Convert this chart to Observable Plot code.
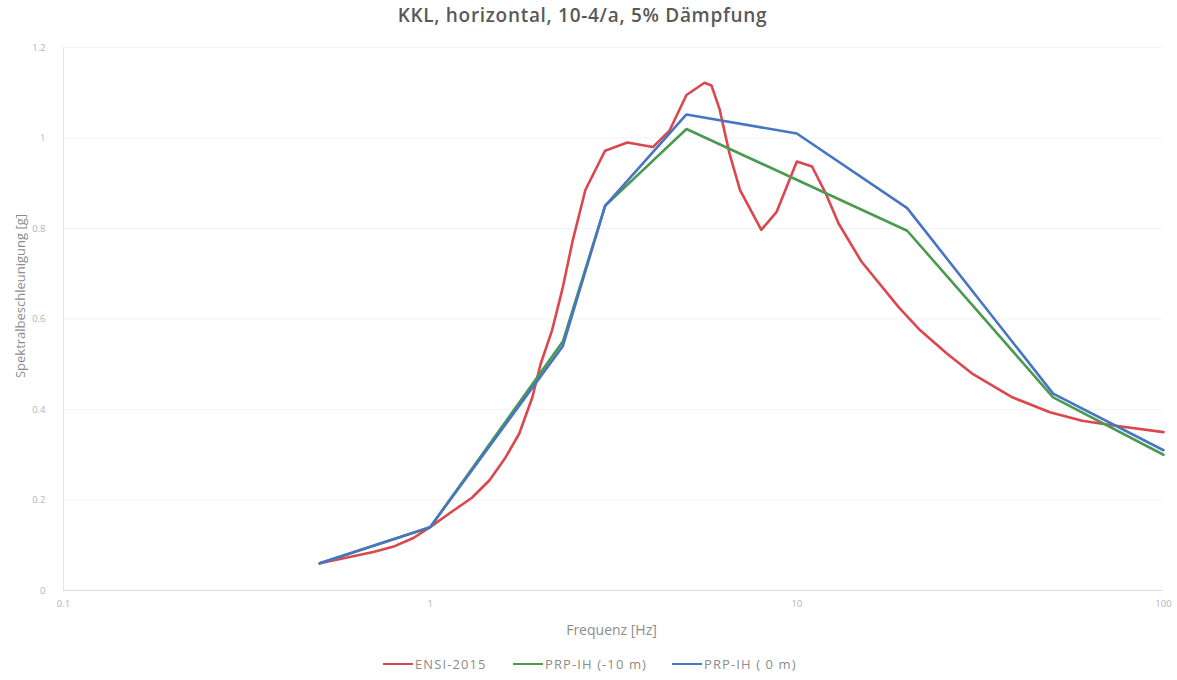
<!DOCTYPE html>
<html>
<head>
<meta charset="utf-8">
<script src="https://cdn.jsdelivr.net/npm/d3@7"></script>
<script src="https://cdn.jsdelivr.net/npm/@observablehq/plot@0.6"></script>
<style>
  html, body { margin: 0; padding: 0; background: #ffffff; }
  #wrap { position: relative; width: 1177px; height: 680px; font-family: "Open Sans", sans-serif; }
  #title { height: 32px; line-height: 30px; text-align: center; font-size: 19px; font-weight: 600; letter-spacing: 0.7px; color: #595959; padding-right: 12px; }
  #legend { position: relative; height: 24px; }
  .item { position: absolute; top: 0; height: 24px; display: flex; align-items: center; font-size: 13px; letter-spacing: 1.1px; color: #8c8c8c; }
  .swatch { width: 30px; height: 2.5px; margin-right: 2px; }
</style>
</head>
<body>
<div id="wrap">
  <div id="title">KKL, horizontal, 10-4/a, 5% Dämpfung</div>
  <div id="chart"></div>
  <div id="legend"></div>
</div>
<script>
// ENSI-2015
const freqEnsi = [0.5, 0.7, 0.8, 0.9, 1, 1.15, 1.3, 1.45, 1.6, 1.75, 1.9, 2.0, 2.15, 2.3, 2.45, 2.65, 3.0, 3.45, 4.05, 4.5, 5.0, 5.6, 5.85, 6.15, 6.55, 7.0, 8.0, 8.8, 10, 11, 12, 13, 15, 19, 21.7, 25.7, 30, 38.7, 49, 60, 74, 100];
const valEnsi  = [0.06, 0.085, 0.098, 0.116, 0.14, 0.175, 0.205, 0.243, 0.292, 0.347, 0.427, 0.50, 0.575, 0.67, 0.775, 0.885, 0.972, 0.99, 0.98, 1.017, 1.095, 1.122, 1.116, 1.065, 0.966, 0.885, 0.797, 0.836, 0.948, 0.937, 0.877, 0.811, 0.727, 0.625, 0.575, 0.523, 0.48, 0.427, 0.394, 0.375, 0.364, 0.35];
// PRP-IH (-10 m)
const freqPrp10 = [0.5, 1, 2.3, 3, 5, 20, 50, 100];
const valPrp10  = [0.06, 0.14, 0.55, 0.85, 1.02, 0.795, 0.427, 0.30];
// PRP-IH ( 0 m)
const freqPrp0 = [0.5, 1, 2.3, 3, 5, 10, 20, 50, 100];
const valPrp0  = [0.06, 0.14, 0.54, 0.85, 1.052, 1.01, 0.845, 0.435, 0.31];

const seriesNames = ["ENSI-2015", "PRP-IH (-10 m)", "PRP-IH ( 0 m)"];
const seriesColors = ["#db474e", "#4b9a50", "#4775c4"];
const xTicks = [0.1, 1, 10, 100];
const xTickLabels = ["0.1", "1", "10", "100"];
const yTicks = [0, 0.2, 0.4, 0.6, 0.8, 1, 1.2];
const yTickLabels = ["0", "0.2", "0.4", "0.6", "0.8", "1", "1.2"];

const rows = [];
[[freqEnsi, valEnsi], [freqPrp10, valPrp10], [freqPrp0, valPrp0]].forEach(([fs, vs], i) => {
  fs.forEach((f, j) => rows.push({series: seriesNames[i], f, v: vs[j]}));
});

const chart = Plot.plot({
  width: 1177,
  height: 620,
  marginTop: 15,
  marginBottom: 62,
  marginLeft: 63,
  marginRight: 14,
  style: {fontFamily: "Open Sans, sans-serif", fontSize: "9.5px", color: "#b3b3b3", background: "#ffffff"},
  x: {type: "log", domain: [0.1, 100]},
  y: {domain: [0, 1.2]},
  color: {domain: seriesNames, range: seriesColors},
  marks: [
    Plot.ruleY(yTicks.filter(d => d > 0), {stroke: "#f3f3f3", strokeWidth: 1}),
    Plot.ruleX([0.1], {stroke: "#e3e3e3", strokeWidth: 1}),
    Plot.ruleY([0], {stroke: "#dedede", strokeWidth: 1}),
    Plot.axisY({ticks: yTicks, tickFormat: d => yTickLabels[yTicks.indexOf(d)], tickSize: 0, tickPadding: 18,
      label: null}),
    Plot.axisX({ticks: xTicks, tickFormat: d => xTickLabels[xTicks.indexOf(d)], tickSize: 0, tickPadding: 10,
      label: null}),
    Plot.line(rows, {x: "f", y: "v", z: "series", stroke: "series", strokeWidth: 2.6, curve: "linear"}),
    Plot.text(["Frequenz [Hz]"], {frameAnchor: "bottom", dx: -2, dy: 44, fontSize: 14, fill: "#8c8c8c", text: d => d,
      style: "letter-spacing:1.9px"}),
    Plot.text(["Spektralbeschleunigung [g]"], {frameAnchor: "left", textAnchor: "middle", dx: -43, dy: -23, rotate: -90, fontSize: 13, fill: "#8c8c8c", text: d => d})
  ]
});
chart.style.display = "block";
document.getElementById("chart").appendChild(chart);

const legend = document.getElementById("legend");
const legendLeft = [383, 513, 672];
seriesNames.forEach((name, i) => {
  const item = document.createElement("div");
  item.className = "item";
  item.style.left = legendLeft[i] + "px";
  const sw = document.createElement("span");
  sw.className = "swatch";
  sw.style.background = seriesColors[i];
  const tx = document.createElement("span");
  tx.textContent = name;
  item.appendChild(sw);
  item.appendChild(tx);
  legend.appendChild(item);
});
</script>
</body>
</html>
